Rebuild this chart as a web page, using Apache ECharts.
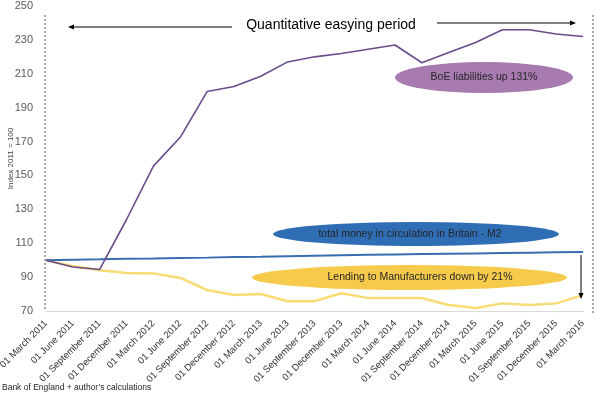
<!DOCTYPE html>
<html><head><meta charset="utf-8">
<script src="https://cdn.jsdelivr.net/npm/echarts@6/dist/echarts.min.js"></script>
<style>html,body{margin:0;padding:0;background:#fff}#c{width:600px;height:395px}</style>
</head><body><div id="c"></div>
<script>
var categories = ["01 March 2011","01 June 2011","01 September 2011","01 December 2011","01 March 2012","01 June 2012","01 September 2012","01 December 2012","01 March 2013","01 June 2013","01 September 2013","01 December 2013","01 March 2014","01 June 2014","01 September 2014","01 December 2014","01 March 2015","01 June 2015","01 September 2015","01 December 2015","01 March 2016"];
var boeLiabilities = [100,96,94.5,124,155.5,172.5,199.5,202.5,208.5,217,220,222,224.5,227,216.5,222.5,228.5,236,236,233.5,232];
var moneyM2 = [100,100.3,100.5,100.8,101,101.3,101.5,101.8,102,102.3,102.6,102.9,103.2,103.4,103.6,103.8,104,104.2,104.4,104.6,104.8];
var lendingManufacturers = [100,96.5,94,92.4,92.2,89.5,82.4,79.4,80,75.8,75.8,80.5,77.6,77.6,77.6,73.5,71.8,74.5,73.5,74.5,79.4];
var yTicks = {min:70, max:250, interval:20};
var ttl = "Quantitative easying period";
var notes = ["BoE liabilities up 131%","total money in circulation in Britain - M2","Lending to Manufacturers down by 21%"];
var source = "Bank of England + author\u2019s calculations";

var chart = echarts.init(document.getElementById('c'));
var FF = "'Liberation Sans', Arial, sans-serif";
function ell(cx, cy, rx, ry, color, text, tx, z){
  return [{type:'circle', x:cx, y:cy, scaleX:rx/ry, scaleY:1, shape:{cx:0,cy:0,r:ry}, style:{fill:color}, z:z},
          {type:'text', x:tx, y:cy, z:z+1, style:{text:text, fill:'#262626', font:'10.5px '+FF, textAlign:'center', textVerticalAlign:'middle'}}];
}
var g = [];
g.push({type:'line', shape:{x1:45,y1:15,x2:45,y2:311}, style:{stroke:'#555', lineWidth:1, lineDash:[2,2]}, z:1});
g.push({type:'line', shape:{x1:593,y1:15,x2:593,y2:313}, style:{stroke:'#555', lineWidth:1, lineDash:[2,2]}, z:1});
g.push({type:'text', x:331, y:25, style:{text:ttl, fill:'#000', font:'14px '+FF, textAlign:'center', textVerticalAlign:'middle'}, z:10});
g.push({type:'line', shape:{x1:232,y1:27,x2:72,y2:27}, style:{stroke:'#000', lineWidth:1}, z:10});
g.push({type:'polygon', shape:{points:[[68,27],[74,24.5],[74,29.5]]}, style:{fill:'#000'}, z:10});
g.push({type:'line', shape:{x1:437,y1:23,x2:571,y2:23}, style:{stroke:'#000', lineWidth:1}, z:10});
g.push({type:'polygon', shape:{points:[[576,23],[570,20.5],[570,25.5]]}, style:{fill:'#000'}, z:10});
g = g.concat(ell(484,77.5,89,15.5,'#a87bb0',notes[0],484,5));
g = g.concat(ell(416,234,143,12,'#2f6db5',notes[1],410,5));
g = g.concat(ell(409.5,277.5,157.5,12.5,'#f6cb4c',notes[2],420,5));
g.push({type:'line', shape:{x1:581,y1:255,x2:581,y2:294}, style:{stroke:'#000', lineWidth:1}, z:10});
g.push({type:'polygon', shape:{points:[[581,299],[578.5,293],[583.5,293]]}, style:{fill:'#000'}, z:10});
g.push({type:'text', x:2, y:388, style:{text:source, fill:'#262626', font:'8.5px '+FF, textVerticalAlign:'middle'}, z:10});

chart.setOption({
  animation:false,
  grid:{left:46, right:17, top:6, bottom:84, containLabel:false, outerBoundsMode:'none'},
  xAxis:{type:'category', data:categories, boundaryGap:false,
    axisLine:{lineStyle:{color:'#d9d9d9'}}, axisTick:{show:false},
    axisLabel:{rotate:45, interval:0, color:'#333', fontSize:9.5, fontFamily:FF, margin:11}},
  yAxis:{type:'value', min:yTicks.min, max:yTicks.max, interval:yTicks.interval,
    name:'Index 2011 = 100', nameLocation:'middle', nameGap:31, nameRotate:90, nameMoveOverlap:false,
    nameTextStyle:{fontSize:8, color:'#404040', fontFamily:FF},
    axisLine:{show:false}, axisTick:{show:false}, splitLine:{show:false},
    axisLabel:{color:'#595959', fontSize:11, fontFamily:FF, margin:13}},
  series:[
    {type:'line', data:lendingManufacturers, symbol:'none', lineStyle:{color:'#f8dc73', width:2.5}, z:3},
    {type:'line', data:moneyM2, symbol:'none', lineStyle:{color:'#3a6db0', width:2}, z:4},
    {type:'line', data:boeLiabilities, symbol:'none', lineStyle:{color:'#6a4c8c', width:1.6}, z:5}
  ],
  graphic:g
});
</script></body></html>
